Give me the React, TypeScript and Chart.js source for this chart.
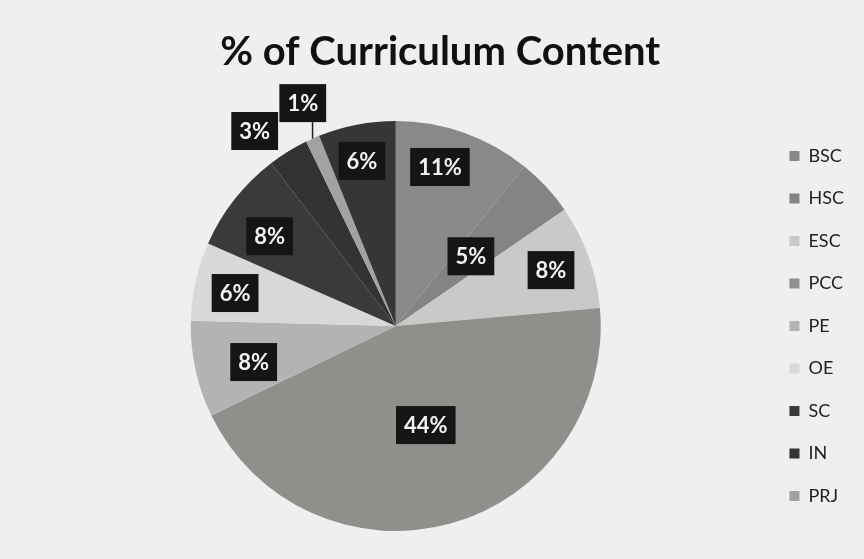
import React, { useEffect, useRef } from "react";
import { Chart, registerables } from "chart.js";

Chart.register(...registerables);

const TITLE = "% of Curriculum Content";
const CATEGORIES = ["BSC", "HSC", "ESC", "PCC", "PE", "OE", "SC", "IN", "PRJ", "MC"];
const SHARE = [10.8, 4.6, 8.2, 44.2, 7.6, 6.2, 8.0, 3.2, 1.1, 6.1];
const LEGEND_COUNT = 9;

const COLORS = [
  "#8a8987",
  "#858482",
  "#c9c9c7",
  "#8f908c",
  "#b3b3b3",
  "#d8d8d8",
  "#3a3a3a",
  "#333333",
  "#a2a2a2",
  "#363636",
];

// label placement: fraction of the pie radius and angular nudge (degrees) from each slice's mid-angle
const LABEL_RADIUS = [0.805, 0.5, 0.805, 0.505, 0.715, 0.8, 0.755, 1.174, 1.178, 0.822];
const LABEL_NUDGE = [-3.9, 0, 0, -1.4, -2.0, -1.0, -2.7, -4.2, 1.3, -0.6];
const LEADER = [false, false, false, false, false, false, false, false, true, false];

const FONT = "Lato, 'Open Sans', sans-serif";

const boxLabels = {
  id: "boxLabels",
  afterDatasetsDraw(chart: any) {
    const ctx = chart.ctx as CanvasRenderingContext2D;
    const meta = chart.getDatasetMeta(0);
    const values = chart.data.datasets[0].data as number[];
    ctx.save();
    ctx.font = `bold 22px ${FONT}`;
    ctx.textAlign = "center";
    ctx.textBaseline = "middle";
    meta.data.forEach((arc: any, i: number) => {
      const { x, y, startAngle, endAngle, outerRadius } = arc.getProps(
        ["x", "y", "startAngle", "endAngle", "outerRadius"],
        true
      );
      const mid = (startAngle + endAngle) / 2;
      const a = mid + (LABEL_NUDGE[i] * Math.PI) / 180;
      const r = outerRadius * LABEL_RADIUS[i];
      const cx = x + Math.cos(a) * r;
      const cy = y + Math.sin(a) * r;
      const text = Math.round(values[i]) + "%";
      const w = ctx.measureText(text).width + 16;
      const h = 38;
      if (LEADER[i]) {
        const ex = x + Math.cos(mid) * outerRadius;
        const ey = y + Math.sin(mid) * outerRadius;
        ctx.strokeStyle = "#1e1e1e";
        ctx.lineWidth = 1.5;
        ctx.beginPath();
        ctx.moveTo(ex, cy + h / 2);
        ctx.lineTo(ex, ey);
        ctx.stroke();
      }
      ctx.fillStyle = "#151515";
      ctx.fillRect(cx - w / 2, cy - h / 2, w, h);
      ctx.fillStyle = "#f2f2f2";
      ctx.fillText(text, cx, cy + 1);
    });
    ctx.restore();
  },
};

export default function App() {
  const canvasRef = useRef<HTMLCanvasElement | null>(null);

  useEffect(() => {
    if (!canvasRef.current) return;
    const chart = new Chart(canvasRef.current, {
      type: "pie",
      data: {
        labels: CATEGORIES,
        datasets: [
          {
            data: SHARE,
            backgroundColor: COLORS,
            borderWidth: 0,
            hoverOffset: 0,
          },
        ],
      },
      options: {
        animation: false,
        responsive: true,
        maintainAspectRatio: false,
        layout: { padding: { left: 26.5, right: 10, top: 0, bottom: 28 } },
        plugins: {
          title: {
            display: true,
            text: TITLE,
            color: "#111111",
            font: { family: FONT, size: 40, weight: "bold" },
            padding: { top: 28, bottom: 45 },
          },
          legend: {
            position: "right",
            fullSize: false,
            labels: {
              boxWidth: 10,
              boxHeight: 10,
              padding: 24.5,
              color: "#222222",
              font: { family: FONT, size: 18 },
              filter: (item: any) => item.index < LEGEND_COUNT,
            },
          },
          tooltip: { enabled: false },
        },
      },
      plugins: [boxLabels],
    });
    return () => chart.destroy();
  }, []);

  return (
    <div
      style={{
        position: "fixed",
        left: 0,
        top: 0,
        width: 864,
        height: 559,
        background: "#efefef",
      }}
    >
      <canvas ref={canvasRef} />
    </div>
  );
}
